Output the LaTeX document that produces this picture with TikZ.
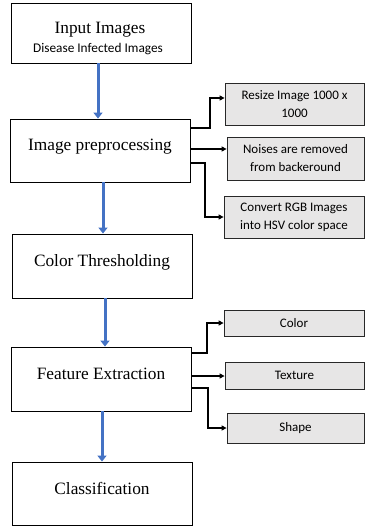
\documentclass[tikz,border=0pt]{standalone}
\usepackage{fontspec}
\setmainfont{Liberation Serif}
\newfontfamily\smallsans{Carlito}
\usetikzlibrary{arrows.meta}
\definecolor{flowblue}{RGB}{68,114,196}
\definecolor{boxgray}{RGB}{231,230,230}
\definecolor{edgegray}{RGB}{40,40,40}
\begin{document}
\begin{tikzpicture}[x=1pt,y=-1pt,
  mainbox/.style={draw=black,line width=0.9pt,fill=white,minimum width=180pt,inner sep=0pt},
  maintext/.style={font=\fontsize{17.3}{20}\selectfont,inner sep=0pt},
  subbox/.style={draw=edgegray,line width=0.8pt,fill=boxgray,inner sep=0pt,
    align=center,font=\smallsans\fontsize{13}{18}\selectfont},
  flow/.style={draw=flowblue,line width=3pt,-{Triangle[width=9pt,length=6pt]}},
  conn/.style={draw=black,line width=1.4pt,-{Triangle[width=5pt,length=5pt]}}
]
\useasboundingbox (0,0) rectangle (365,526);

% main pipeline
\node[mainbox,minimum height=60pt] (in) at (101,33) {};
\node[maintext] (inT) at (100,30) {Input Images};
\node[inner sep=0pt,font=\smallsans\fontsize{13.3}{15}\selectfont] (inS) at (98,49) {Disease Infected Images};

\node[mainbox,minimum height=63pt] (pre) at (100,150.5) {};
\node[maintext] (preT) at (100,147) {Image preprocessing};

\node[mainbox,minimum height=64pt] (thr) at (102,266) {};
\node[maintext] (thrT) at (102,262) {Color Thresholding};

\node[mainbox,minimum height=64pt] (fe) at (101,379) {};
\node[maintext] (feT) at (101,374) {Feature Extraction};

\node[mainbox,minimum height=63pt] (cls) at (102,493.5) {};
\node[maintext] (clsT) at (102,488) {Classification};

% preprocessing steps
\node[subbox,minimum width=139pt,minimum height=42pt] (resize) at (294.5,104) {Resize Image 1000 x\\1000};
\node[subbox,minimum width=137pt,minimum height=43pt] (noise) at (295.5,158.5) {Noises are removed\\from backeround};
\node[subbox,minimum width=140pt,minimum height=42pt] (convert) at (294,217) {Convert RGB Images\\into HSV color space};

% extracted features
\node[subbox,minimum width=140pt,minimum height=26pt] (color) at (294,323) {Color};
\node[subbox,minimum width=139pt,minimum height=27pt] (texture) at (294.5,375.5) {Texture};
\node[subbox,minimum width=137pt,minimum height=30pt] (shape) at (295.5,428) {Shape};

% blue flow arrows
\draw[flow] (in.south -| 98,0) -- (pre.north -| 98,0);
\draw[flow] (pre.south -| 103,0) -- (thr.north -| 103,0);
\draw[flow] (thr.south -| 105,0) -- (fe.north -| 105,0);
\draw[flow] (fe.south -| 102,0) -- (cls.north -| 102,0);

% branch connectors
\draw[conn] (pre.east |- 0,128) -- (210,128) -- (210,98) -- (resize.west |- 0,98);
\draw[conn] (pre.east |- 0,149) -- (noise.west |- 0,149);
\draw[conn] (pre.east |- 0,163) -- (205,163) -- (205,217) -- (convert.west |- 0,217);

\draw[conn] (fe.east |- 0,353) -- (207,353) -- (207,323) -- (color.west |- 0,323);
\draw[conn] (fe.east |- 0,376) -- (texture.west |- 0,376);
\draw[conn] (fe.east |- 0,388) -- (208,388) -- (208,428) -- (shape.west |- 0,428);
\end{tikzpicture}
\end{document}
